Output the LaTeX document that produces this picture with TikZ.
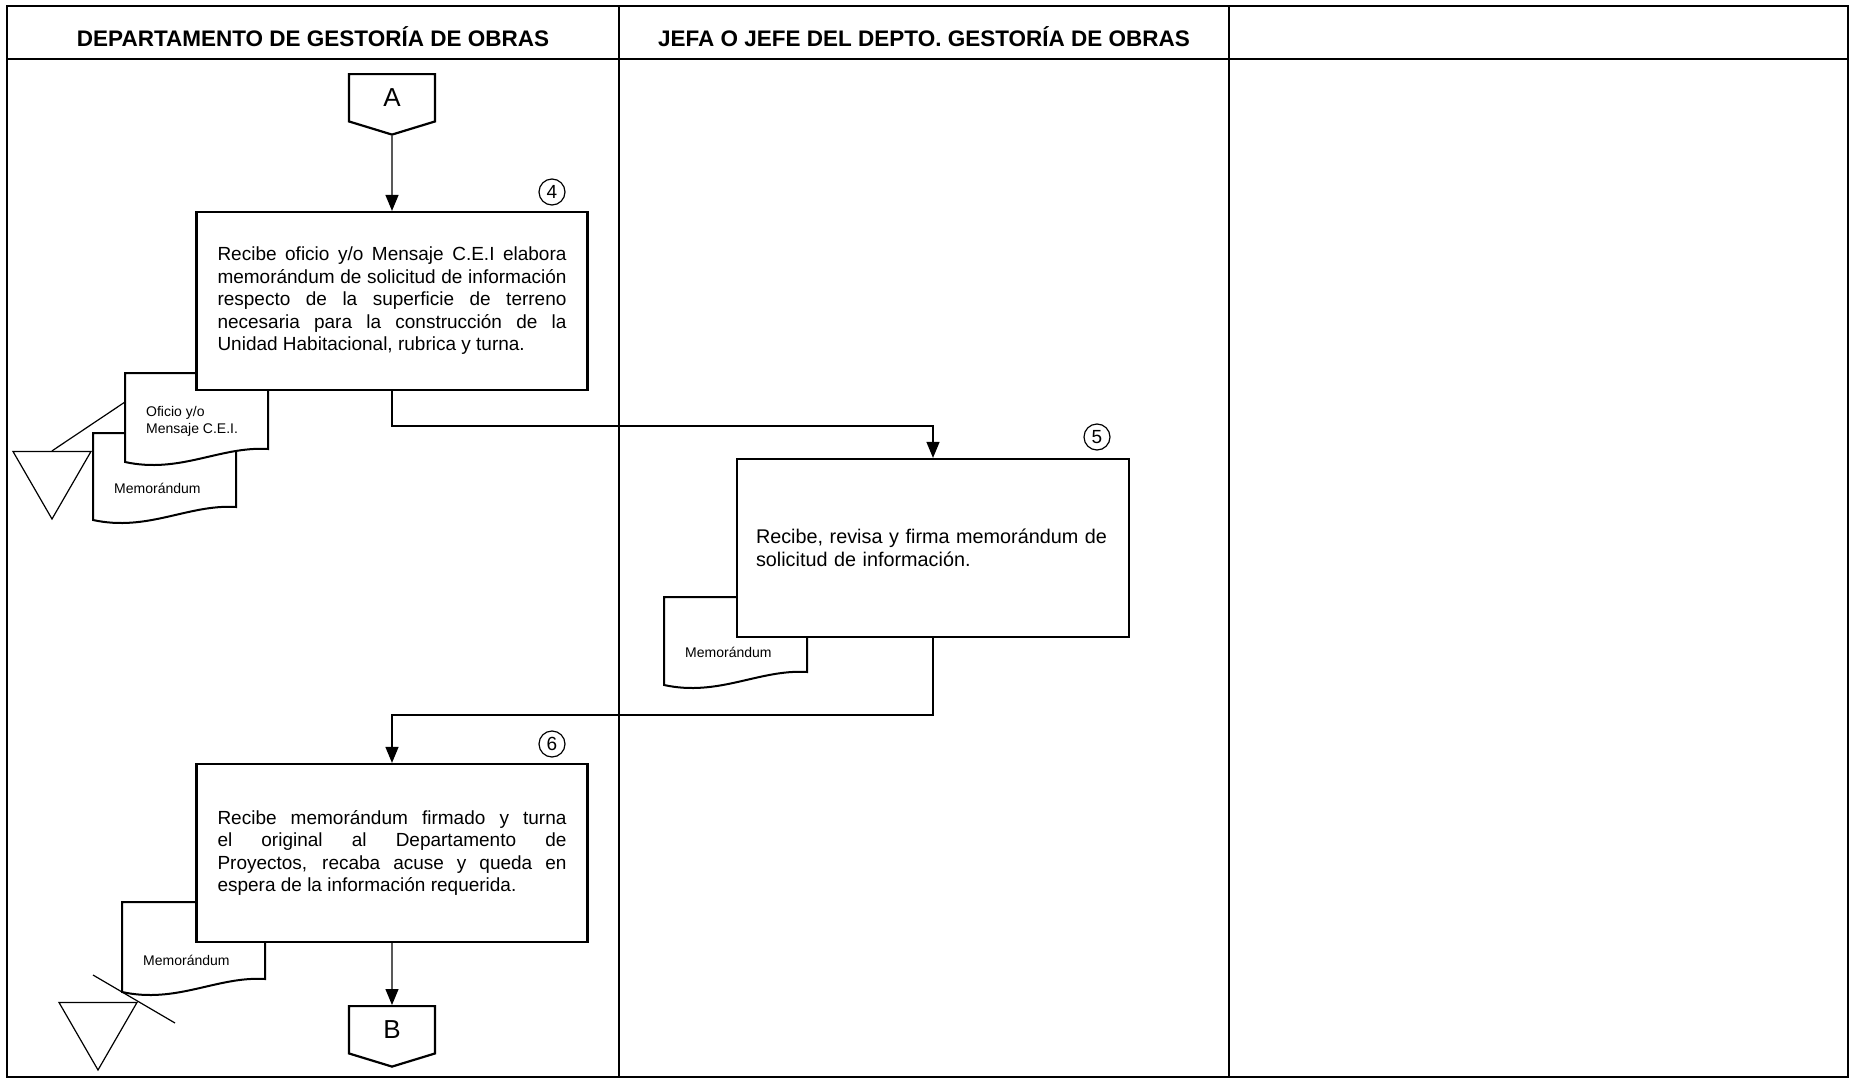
\documentclass[tikz,border=0pt]{standalone}
\usepackage{fontspec}
\setmainfont{Liberation Sans}
\usetikzlibrary{arrows.meta,positioning,calc,shapes.geometric,shapes.symbols}
\tikzset{
  proc/.style={draw, line width=2.2pt, fill=white, text width=349pt, inner xsep=21pt,
               inner ysep=0pt, minimum height=178pt, align=justify,
               font=\fontsize{19}{22.5}\selectfont},
  num/.style={draw, circle, line width=1.2pt, minimum size=26pt, inner sep=0pt,
              font=\fontsize{19}{19}\selectfont},
  offpg/.style={draw, line width=2.2pt, fill=white, signal, signal to=south,
                signal pointer angle=146, minimum width=86pt, minimum height=50pt,
                inner sep=0pt, font=\fontsize{26}{26}\selectfont},
  hdr/.style={font=\bfseries\fontsize{22.5}{22.5}\selectfont},
  doctxt/.style={align=left, inner sep=0pt, font=\fontsize{14}{17}\selectfont},
  docln/.style={draw, line width=2pt, fill=white},
  arch/.style={draw, line width=1.2pt, regular polygon, regular polygon sides=3,
               shape border rotate=180, minimum size=90pt, inner sep=0pt},
  ar/.style={-{Triangle[length=16pt, width=13pt]}, line width=1.3pt},
  lane/.style={line width=1.3pt},
}
% document symbol: name, left, top, height, text offset, text
\newcommand{\docu}[6]{%
  \draw[docln] (#2,#3+#4) -- (#2,#3) -- (#2+143,#3) -- (#2+143,#3+#4-13)
    .. controls (#2+95,#3+#4-16) and (#2+55,#3+#4+12) .. (#2,#3+#4) -- cycle;
  \node[doctxt, anchor=west] (#1) at (#2+21,#3+#5) {#6};
}

\begin{document}
\begin{tikzpicture}[x=1pt, y=-1pt]
\useasboundingbox (0,0) rectangle (1853,1079);

% lanes
\draw[lane] (7,6) rectangle (1848,1077);
\draw[lane] (619,6) -- (619,1077);
\draw[lane] (1229,6) -- (1229,1077);
\draw[line width=2.5pt] (7,6) -- (1848,6);
\draw[line width=2.5pt] (7,59) -- (1848,59);
\node[hdr] (h1) at (313,37) {DEPARTAMENTO DE GESTORÍA DE OBRAS};
\node[hdr] (h2) at (924,37) {JEFA O JEFE DEL DEPTO. GESTORÍA DE OBRAS};

% documents
\docu{d1}{93}{433}{87}{55}{Memorándum}
\docu{d2}{125}{373}{89}{48}{Oficio y/o\\Mensaje C.E.I.}
\docu{d3}{664}{597}{88}{55}{Memorándum}
\docu{d4}{122}{902}{90}{58}{Memorándum}

% archive
\node[arch] (t1) at (52,474) {};
\node[arch] (t2) at (98,1025) {};
\coordinate (c1) at (125,402);
\coordinate (c2a) at (93,975);
\coordinate (c2b) at (175,1023);
\draw[line width=1.2pt] (t1.north) -- (c1);
\draw[line width=1.2pt] (c2a) -- (c2b);

% steps
\node[offpg, anchor=north] (A) at (392,73) {A};
\node[proc] (p4) at (392,301) {Recibe oficio y/o Mensaje C.E.I elabora\linebreak
  memorándum de solicitud de información\linebreak
  respecto de la superficie de terreno\linebreak
  necesaria para la construcción de la\linebreak
  Unidad Habitacional, rubrica y turna.};
\node[num] (n4) at (552,192) {4};

\node[proc, align=left, text width=354pt, inner xsep=19pt,
      font=\fontsize{19.8}{23.5}\selectfont] (p5) at (933,548)
  {Recibe, revisa y firma memorándum de\\solicitud de información.};
\node[num] (n5) at (1097,437) {5};

\node[proc] (p6) at (392,853) {Recibe memorándum firmado y turna\linebreak
  el original al Departamento de\linebreak
  Proyectos, recaba acuse y queda en\linebreak
  espera de la información requerida.};
\node[num] (n6) at (552,744) {6};
\node[offpg, anchor=north] (B) at (392,1005) {B};

\draw[ar] (A) -- (p4);
\draw[ar] (p4.south) -- ++(0,35) -| (p5.north);
\draw[ar] (p5.south) -- ++(0,77) -| (p6.north);
\draw[ar] (p6) -- (B);
\end{tikzpicture}
\end{document}
